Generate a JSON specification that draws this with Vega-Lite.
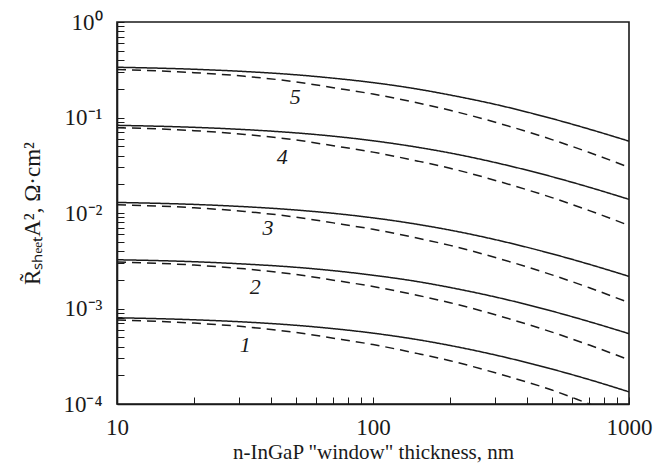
{
  "$schema": "https://vega.github.io/schema/vega-lite/v6.json",
  "width": 512,
  "height": 382,
  "autosize": "none",
  "padding": {"left": 117, "top": 22, "right": 40, "bottom": 64},
  "background": "white",
  "config": {
    "view": {"stroke": "#1a1a1a", "strokeWidth": 1.6},
    "font": "Liberation Serif",
    "axis": {
      "grid": false,
      "domainColor": "#1a1a1a",
      "domainWidth": 1.6,
      "tickColor": "#1a1a1a",
      "tickWidth": 1,
      "tickSize": -7,
      "labelFont": "Liberation Serif",
      "labelFontSize": 23,
      "labelColor": "#1a1a1a",
      "titleFont": "Liberation Serif",
      "titleFontSize": 21,
      "titleFontWeight": "normal",
      "titleColor": "#1a1a1a",
      "labelFlush": false,
      "labelOverlap": false
    }
  },
  "datasets": {
    "curves": [
      {"curve": "5", "type": "solid", "x": 10, "y": 0.336},
      {"curve": "5", "type": "solid", "x": 20, "y": 0.320},
      {"curve": "5", "type": "solid", "x": 31.6, "y": 0.303},
      {"curve": "5", "type": "solid", "x": 50, "y": 0.280},
      {"curve": "5", "type": "solid", "x": 70, "y": 0.258},
      {"curve": "5", "type": "solid", "x": 100, "y": 0.232},
      {"curve": "5", "type": "solid", "x": 150, "y": 0.198},
      {"curve": "5", "type": "solid", "x": 200, "y": 0.172},
      {"curve": "5", "type": "solid", "x": 316, "y": 0.133},
      {"curve": "5", "type": "solid", "x": 500, "y": 0.0974},
      {"curve": "5", "type": "solid", "x": 700, "y": 0.0755},
      {"curve": "5", "type": "solid", "x": 1000, "y": 0.0565},
      {"curve": "5", "type": "dashed", "x": 10, "y": 0.318},
      {"curve": "5", "type": "dashed", "x": 20, "y": 0.295},
      {"curve": "5", "type": "dashed", "x": 31.6, "y": 0.270},
      {"curve": "5", "type": "dashed", "x": 50, "y": 0.236},
      {"curve": "5", "type": "dashed", "x": 70, "y": 0.205},
      {"curve": "5", "type": "dashed", "x": 100, "y": 0.176},
      {"curve": "5", "type": "dashed", "x": 150, "y": 0.142},
      {"curve": "5", "type": "dashed", "x": 200, "y": 0.119},
      {"curve": "5", "type": "dashed", "x": 316, "y": 0.0858},
      {"curve": "5", "type": "dashed", "x": 500, "y": 0.0587},
      {"curve": "5", "type": "dashed", "x": 700, "y": 0.0430},
      {"curve": "5", "type": "dashed", "x": 1000, "y": 0.0301},
      {"curve": "4", "type": "solid", "x": 10, "y": 0.0828},
      {"curve": "4", "type": "solid", "x": 20, "y": 0.0789},
      {"curve": "4", "type": "solid", "x": 31.6, "y": 0.0747},
      {"curve": "4", "type": "solid", "x": 50, "y": 0.0690},
      {"curve": "4", "type": "solid", "x": 70, "y": 0.0637},
      {"curve": "4", "type": "solid", "x": 100, "y": 0.0571},
      {"curve": "4", "type": "solid", "x": 150, "y": 0.0487},
      {"curve": "4", "type": "solid", "x": 200, "y": 0.0425},
      {"curve": "4", "type": "solid", "x": 316, "y": 0.0327},
      {"curve": "4", "type": "solid", "x": 500, "y": 0.0240},
      {"curve": "4", "type": "solid", "x": 700, "y": 0.0186},
      {"curve": "4", "type": "solid", "x": 1000, "y": 0.0139},
      {"curve": "4", "type": "dashed", "x": 10, "y": 0.0783},
      {"curve": "4", "type": "dashed", "x": 20, "y": 0.0728},
      {"curve": "4", "type": "dashed", "x": 31.6, "y": 0.0665},
      {"curve": "4", "type": "dashed", "x": 50, "y": 0.0581},
      {"curve": "4", "type": "dashed", "x": 70, "y": 0.0506},
      {"curve": "4", "type": "dashed", "x": 100, "y": 0.0434},
      {"curve": "4", "type": "dashed", "x": 150, "y": 0.0349},
      {"curve": "4", "type": "dashed", "x": 200, "y": 0.0294},
      {"curve": "4", "type": "dashed", "x": 316, "y": 0.0211},
      {"curve": "4", "type": "dashed", "x": 500, "y": 0.0145},
      {"curve": "4", "type": "dashed", "x": 700, "y": 0.0106},
      {"curve": "4", "type": "dashed", "x": 1000, "y": 0.00741},
      {"curve": "3", "type": "solid", "x": 10, "y": 0.0129},
      {"curve": "3", "type": "solid", "x": 20, "y": 0.0123},
      {"curve": "3", "type": "solid", "x": 31.6, "y": 0.01164},
      {"curve": "3", "type": "solid", "x": 50, "y": 0.01075},
      {"curve": "3", "type": "solid", "x": 70, "y": 0.00992},
      {"curve": "3", "type": "solid", "x": 100, "y": 0.00890},
      {"curve": "3", "type": "solid", "x": 150, "y": 0.00759},
      {"curve": "3", "type": "solid", "x": 200, "y": 0.00662},
      {"curve": "3", "type": "solid", "x": 316, "y": 0.00510},
      {"curve": "3", "type": "solid", "x": 500, "y": 0.00374},
      {"curve": "3", "type": "solid", "x": 700, "y": 0.00290},
      {"curve": "3", "type": "solid", "x": 1000, "y": 0.00217},
      {"curve": "3", "type": "dashed", "x": 10, "y": 0.01221},
      {"curve": "3", "type": "dashed", "x": 20, "y": 0.01134},
      {"curve": "3", "type": "dashed", "x": 31.6, "y": 0.01037},
      {"curve": "3", "type": "dashed", "x": 50, "y": 0.00905},
      {"curve": "3", "type": "dashed", "x": 70, "y": 0.00788},
      {"curve": "3", "type": "dashed", "x": 100, "y": 0.00675},
      {"curve": "3", "type": "dashed", "x": 150, "y": 0.00544},
      {"curve": "3", "type": "dashed", "x": 200, "y": 0.00458},
      {"curve": "3", "type": "dashed", "x": 316, "y": 0.00329},
      {"curve": "3", "type": "dashed", "x": 500, "y": 0.00225},
      {"curve": "3", "type": "dashed", "x": 700, "y": 0.00165},
      {"curve": "3", "type": "dashed", "x": 1000, "y": 0.00115},
      {"curve": "2", "type": "solid", "x": 10, "y": 0.00324},
      {"curve": "2", "type": "solid", "x": 20, "y": 0.00309},
      {"curve": "2", "type": "solid", "x": 31.6, "y": 0.00292},
      {"curve": "2", "type": "solid", "x": 50, "y": 0.00270},
      {"curve": "2", "type": "solid", "x": 70, "y": 0.00249},
      {"curve": "2", "type": "solid", "x": 100, "y": 0.00223},
      {"curve": "2", "type": "solid", "x": 150, "y": 0.00191},
      {"curve": "2", "type": "solid", "x": 200, "y": 0.00166},
      {"curve": "2", "type": "solid", "x": 316, "y": 0.00128},
      {"curve": "2", "type": "solid", "x": 500, "y": 0.000939},
      {"curve": "2", "type": "solid", "x": 700, "y": 0.000728},
      {"curve": "2", "type": "solid", "x": 1000, "y": 0.000545},
      {"curve": "2", "type": "dashed", "x": 10, "y": 0.00307},
      {"curve": "2", "type": "dashed", "x": 20, "y": 0.00285},
      {"curve": "2", "type": "dashed", "x": 31.6, "y": 0.00260},
      {"curve": "2", "type": "dashed", "x": 50, "y": 0.00227},
      {"curve": "2", "type": "dashed", "x": 70, "y": 0.00198},
      {"curve": "2", "type": "dashed", "x": 100, "y": 0.00170},
      {"curve": "2", "type": "dashed", "x": 150, "y": 0.00137},
      {"curve": "2", "type": "dashed", "x": 200, "y": 0.00115},
      {"curve": "2", "type": "dashed", "x": 316, "y": 0.000827},
      {"curve": "2", "type": "dashed", "x": 500, "y": 0.000566},
      {"curve": "2", "type": "dashed", "x": 700, "y": 0.000414},
      {"curve": "2", "type": "dashed", "x": 1000, "y": 0.000290},
      {"curve": "1", "type": "solid", "x": 10, "y": 0.000800},
      {"curve": "1", "type": "solid", "x": 20, "y": 0.000762},
      {"curve": "1", "type": "solid", "x": 31.6, "y": 0.000722},
      {"curve": "1", "type": "solid", "x": 50, "y": 0.000667},
      {"curve": "1", "type": "solid", "x": 70, "y": 0.000615},
      {"curve": "1", "type": "solid", "x": 100, "y": 0.000552},
      {"curve": "1", "type": "solid", "x": 150, "y": 0.000471},
      {"curve": "1", "type": "solid", "x": 200, "y": 0.000410},
      {"curve": "1", "type": "solid", "x": 316, "y": 0.000316},
      {"curve": "1", "type": "solid", "x": 500, "y": 0.000232},
      {"curve": "1", "type": "solid", "x": 700, "y": 0.000180},
      {"curve": "1", "type": "solid", "x": 1000, "y": 0.000134},
      {"curve": "1", "type": "dashed", "x": 10, "y": 0.000757},
      {"curve": "1", "type": "dashed", "x": 20, "y": 0.000703},
      {"curve": "1", "type": "dashed", "x": 31.6, "y": 0.000643},
      {"curve": "1", "type": "dashed", "x": 50, "y": 0.000561},
      {"curve": "1", "type": "dashed", "x": 70, "y": 0.000489},
      {"curve": "1", "type": "dashed", "x": 100, "y": 0.000419},
      {"curve": "1", "type": "dashed", "x": 150, "y": 0.000337},
      {"curve": "1", "type": "dashed", "x": 200, "y": 0.000284},
      {"curve": "1", "type": "dashed", "x": 316, "y": 0.000204},
      {"curve": "1", "type": "dashed", "x": 500, "y": 0.000140},
      {"curve": "1", "type": "dashed", "x": 700, "y": 0.000100},
      {"curve": "1", "type": "dashed", "x": 1000, "y": 0.0000700}
    ],
    "labels": [
      {"label": "5", "x": 49.7, "y": 0.162},
      {"label": "4", "x": 44.2, "y": 0.0389},
      {"label": "3", "x": 38.9, "y": 0.00701},
      {"label": "2", "x": 34.7, "y": 0.00169},
      {"label": "1", "x": 31.7, "y": 0.000417}
    ]
  },
  "layer": [
    {
      "data": {"name": "curves"},
      "mark": {"type": "line", "color": "#1a1a1a", "strokeWidth": 1.5, "clip": true, "interpolate": "monotone"},
      "encoding": {
        "x": {
          "field": "x", "type": "quantitative",
          "scale": {"type": "log", "domain": [10, 1000], "nice": false},
          "axis": {
            "title": "n-InGaP \"window\" thickness, nm",
            "values": [10, 20, 30, 40, 50, 60, 70, 80, 90, 100, 200, 300, 400, 500, 600, 700, 800, 900, 1000],
            "labelExpr": "datum.value == 10 ? '10' : datum.value == 100 ? '100' : datum.value == 1000 ? '1000' : ''",
            "labelPadding": 19,
            "titlePadding": 2
          }
        },
        "y": {
          "field": "y", "type": "quantitative",
          "scale": {"type": "log", "domain": [0.0001, 1], "nice": false},
          "axis": {
            "title": "R̃ₛₕₑₑₜA², Ω·cm²",
            "titleFontSize": 23,
            "values": [0.0001, 0.0002, 0.0003, 0.0004, 0.0005, 0.0006, 0.0007, 0.0008, 0.0009, 0.001, 0.002, 0.003, 0.004, 0.005, 0.006, 0.007, 0.008, 0.009, 0.01, 0.02, 0.03, 0.04, 0.05, 0.06, 0.07, 0.08, 0.09, 0.1, 0.2, 0.3, 0.4, 0.5, 0.6, 0.7, 0.8, 0.9, 1],
            "labelExpr": "datum.value == 1 ? '10⁰' : datum.value == 0.1 ? '10⁻¹' : datum.value == 0.01 ? '10⁻²' : datum.value == 0.001 ? '10⁻³' : datum.value == 0.0001 ? '10⁻⁴' : ''",
            "labelPadding": 22,
            "titlePadding": 18
          }
        },
        "detail": {"field": "curve"},
        "strokeDash": {
          "field": "type", "type": "nominal",
          "scale": {"domain": ["solid", "dashed"], "range": [[1, 0], [9, 6]]},
          "legend": null
        }
      }
    },
    {
      "data": {"name": "labels"},
      "mark": {"type": "text", "font": "Liberation Serif", "fontStyle": "italic", "fontSize": 22, "color": "#1a1a1a"},
      "encoding": {
        "x": {"field": "x", "type": "quantitative"},
        "y": {"field": "y", "type": "quantitative"},
        "text": {"field": "label"}
      }
    }
  ]
}
